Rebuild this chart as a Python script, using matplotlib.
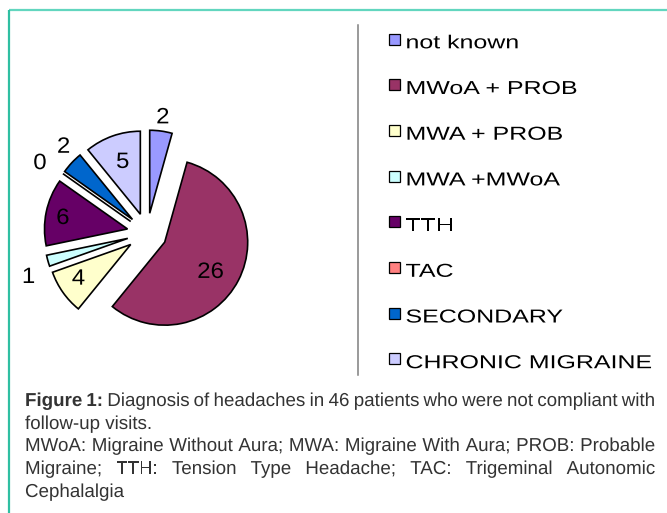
import numpy as np
import matplotlib.pyplot as plt
from matplotlib.patches import Rectangle
from matplotlib.patheffects import AbstractPathEffect, Normal
from matplotlib.transforms import Affine2D

# data (46 patients)
categories = ['not known', 'MWoA + PROB', 'MWA + PROB', 'MWA +MWoA',
              'TTH', 'TAC', 'SECONDARY', 'CHRONIC MIGRAINE']
counts = [2, 26, 4, 1, 6, 0, 2, 5]
colors = ['#9999ff', '#993366', '#ffffcc', '#ccffff',
          '#660066', '#ff8080', '#0066cc', '#ccccff']

caption_head = 'Figure 1:'
caption_lines = [
    'Diagnosis of headaches in 46 patients who were not compliant with',
    'follow-up visits.',
    'MWoA: Migraine Without Aura; MWA: Migraine With Aura; PROB: Probable',
    'Migraine; TTH: Tension Type Headache; TAC: Trigeminal Autonomic',
    'Cephalalgia',
]
justified = [True, False, True, True, False]

# where each value label sits: distance from the exploded wedge centre
# (pie radii) and angular shift from the wedge middle (degrees)
label_dist = [1.19, 0.645, 0.736, 1.27, 0.79, 1.31, 1.22, 0.686]
label_shift = [0, -3.9, -3.4, 4.7, 0.4, 1.5, -4.4, -1.9]


class HStretch(AbstractPathEffect):
    """Widen glyphs horizontally (the source chart was stretched)."""

    def __init__(self, sx):
        super().__init__()
        self.sx = sx

    def draw_path(self, renderer, gc, tpath, affine, rgbFace=None):
        renderer.draw_path(gc, tpath, Affine2D().scale(self.sx, 1) + affine, rgbFace)


W, H = 667, 513
fig = plt.figure(figsize=(W / 100, H / 100), dpi=100)
fig.patch.set_facecolor('white')

# overlay in pixel units for frame, legend and caption
lay = fig.add_axes([0, 0, 1, 1])
lay.set_xlim(0, W)
lay.set_ylim(H, 0)
lay.axis('off')

lay.plot([9, W], [10, 10], color='#62d6bf', lw=1.6, solid_capstyle='butt')
lay.plot([9, 9], [10, H], color='#2fbfa2', lw=1.6, solid_capstyle='butt')

# pie
cx, cy, R = 147, 233, 83
lim = 1.6
half = lim * R
ax = fig.add_axes([(cx - half) / W, (H - cy - half) / H, 2 * half / W, 2 * half / H])
res = ax.pie(counts, colors=colors, startangle=90, counterclock=False,
             explode=[0.24] * len(counts),
             wedgeprops=dict(edgecolor='black', linewidth=1.2))
wedges = res[0]
ax.set_xlim(-lim, lim)
ax.set_ylim(-lim, lim)
ax.set_aspect('equal')
ax.axis('off')

num_fs = 16
for w, n, d, s in zip(wedges, counts, label_dist, label_shift):
    ang = np.deg2rad((w.theta1 + w.theta2) / 2 + s)
    x = w.center[0] + d * np.cos(ang)
    y = w.center[1] + d * np.sin(ang)
    # baseline placed half a cap height below the point -> digits centred on it
    ax.annotate(str(n), (x, y), xytext=(-0.6, -0.716 * num_fs / 2),
                textcoords='offset points', ha='center', va='baseline',
                fontsize=num_fs, family='Liberation Sans', color='black',
                path_effects=[HStretch(1.08)])

# separator line
lay.plot([358, 358], [25, 375], color='#7f7f7f', lw=1.1)

# legend (drawn by hand, Excel style)
y0, dy = 39, 45.7
for i, (lab, col) in enumerate(zip(categories, colors)):
    yc = y0 + i * dy
    lay.add_patch(Rectangle((388.5, yc - 5.5), 11, 11, facecolor=col,
                            edgecolor='black', lw=0.9))
    lay.text(405.5, yc + 9.3, lab, fontsize=13.5, family='Liberation Sans',
             color='black', va='baseline', ha='left',
             path_effects=[HStretch(1.33)])

# caption
X0, X1 = 25, 655
cap_color = '#333333'
cap_fs = 13.5
base = [406, 429, 451, 474, 497]
renderer = fig.canvas.get_renderer()


def put_line(words, y):
    arts = [lay.text(X0, y, t, fontweight=wt, fontsize=cap_fs,
                     family='Liberation Sans', color=cap_color, va='baseline',
                     path_effects=[Normal()])
            for t, wt in words]
    widths = [a.get_window_extent(renderer).width for a in arts]
    gap = (X1 - X0 - sum(widths)) / (len(words) - 1)
    x = X0
    for a, wd in zip(arts, widths):
        a.set_x(x)
        x += wd + gap


for i, (line, just) in enumerate(zip(caption_lines, justified)):
    words = [(t, 'normal') for t in line.split()]
    if i == 0:
        words = [(t, 'bold') for t in caption_head.split()] + words
    if just:
        put_line(words, base[i])
    else:
        lay.text(X0, base[i], line, fontsize=cap_fs, family='Liberation Sans',
                 color=cap_color, va='baseline', path_effects=[Normal()])

fig.savefig('out.png', dpi=100)
